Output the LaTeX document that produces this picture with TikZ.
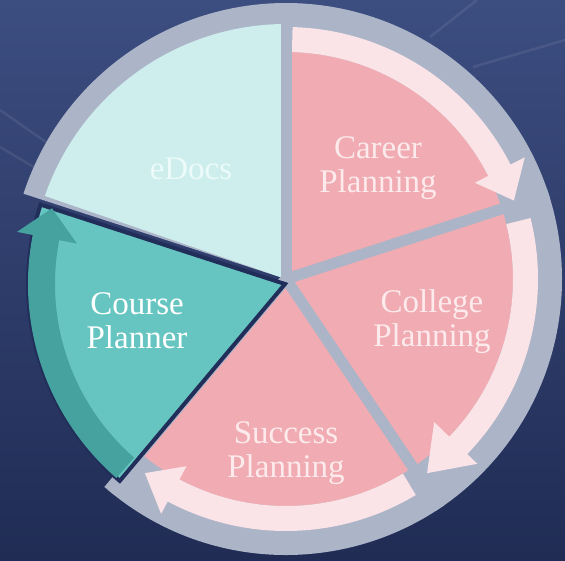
\documentclass[tikz,border=0pt]{standalone}
\usepackage{fontspec}
\setmainfont{Liberation Serif}
\definecolor{bgtop}{RGB}{60,77,128}
\definecolor{bgbot}{RGB}{32,44,84}
\definecolor{ringgray}{RGB}{172,180,200}
\definecolor{slicepink}{RGB}{240,172,178}
\definecolor{bandwhite}{RGB}{250,228,231}
\definecolor{docscyan}{RGB}{205,238,236}
\definecolor{planteal}{RGB}{102,197,192}
\definecolor{tealdark}{RGB}{70,162,158}
\definecolor{gapnavy}{RGB}{34,46,90}
\definecolor{pinktext}{RGB}{252,234,236}
\definecolor{cyantext}{RGB}{236,250,250}
\begin{document}
\begin{tikzpicture}[x=1pt,y=1pt,
	divider/.style={ringgray,line width=11pt},
	streak/.style={white,opacity=.08,line width=2.5pt},
	slicetext/.style={align=center,font=\fontsize{33}{34}\selectfont}]
	\useasboundingbox (-286,-281) rectangle (279,279);
	% backdrop
	\fill[top color=bgtop,bottom color=bgbot] (-286,-281) rectangle (279,279);
	\draw[streak] (-286,169)--(-150,74);
	\draw[streak] (-286,132)--(-190,75);
	\draw[streak] (144,242)--(191,279);
	\draw[streak] (187,212)--(279,239);
	% ring and slices
	\fill[ringgray] (0,0)--(-130:276) arc[start angle=-130,end angle=162,radius=276]--cycle;
	\fill[docscyan] (0,0)--(90:255) arc[start angle=90,end angle=161,radius=255]--cycle;
	\fill[slicepink] (0,0)--(18:227) arc[start angle=18,end angle=90,radius=227]--cycle;
	\fill[slicepink] (0,0)--(-56:227) arc[start angle=-56,end angle=18,radius=227]--cycle;
	\fill[slicepink] (0,0)--(-130:227) arc[start angle=-130,end angle=-56,radius=227]--cycle;
	\foreach \a in {90,18,-56,-130}
		\draw[divider] (0,0)--(\a:276);
	% white arrows
	\fill[bandwhite] (88.5:227) arc[start angle=88.5,end angle=27,radius=227]--(27:212)--(19:241)--(27:268)--(27:252) arc[start angle=27,end angle=88.5,radius=252]--cycle;
	\fill[bandwhite] (14:227) arc[start angle=14,end angle=-44,radius=227]--(-44:206)--(-54:240)--(-44:266)--(-44:252) arc[start angle=-44,end angle=14,radius=252]--cycle;
	\fill[bandwhite] (-59:227) arc[start angle=-59,end angle=-118,radius=227]--(-118:212)--(-126:240)--(-118:266)--(-118:252) arc[start angle=-118,end angle=-59,radius=252]--cycle;
	% course planner slice
	\begin{scope}[shift={(-1,-5)}]
		\filldraw[fill=planteal,draw=gapnavy,line width=4pt] (0,0)--(162:257) arc[start angle=162,end angle=230,radius=257]--cycle;
		\fill[tealdark] (229:230) arc[start angle=229,end angle=169,radius=230]--(169:212)--(162:245)--(169:273)--(169:257) arc[start angle=169,end angle=229,radius=257]--cycle;
	\end{scope}
	% labels
	\node[slicetext,cyantext] (edocs) at (-95,110) {eDocs};
	\node[slicetext,pinktext] (career) at (92,111) {Career\\Planning};
	\node[slicetext,pinktext] (college) at (146,-43) {College\\Planning};
	\node[slicetext,pinktext] (success) at (0,-174) {Success\\Planning};
	\node[slicetext,white] (course) at (-149,-42) {Course\\Planner};
\end{tikzpicture}
\end{document}
